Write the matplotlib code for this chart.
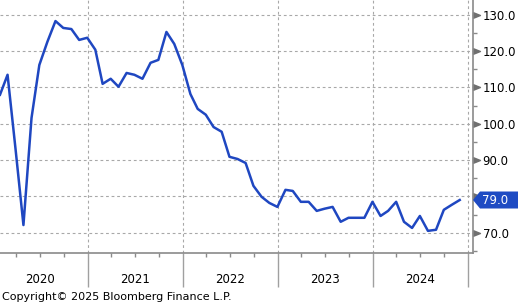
import pandas as pd
import matplotlib
matplotlib.use("Agg")
import matplotlib.pyplot as plt
import matplotlib.dates as mdates
from matplotlib.path import Path
from matplotlib.patches import Polygon
from matplotlib.transforms import IdentityTransform

# monthly series, month-end dates
dates = pd.date_range("2020-01-31", periods=59, freq="ME")
values = [
    108.0, 113.5, 92.8, 72.1, 101.6, 116.2, 122.6, 128.3, 126.4, 126.1, 123.1, 123.7,
    120.4, 111.0, 112.4, 110.2, 114.0, 113.5, 112.4, 116.8, 117.6, 125.3, 122.0, 116.2,
    108.2, 104.1, 102.5, 99.1, 97.8, 90.9, 90.3, 89.2, 82.9, 79.9, 78.2, 77.1,
    81.8, 81.5, 78.5, 78.5, 76.0, 76.6, 77.1, 73.0, 74.1, 74.1, 74.1, 78.5,
    74.6, 76.0, 78.5, 73.0, 71.3, 74.6, 70.5, 70.8, 76.3, 77.7, 79.0,
]
years = [2020, 2021, 2022, 2023, 2024]
y_ticks = [70, 80, 90, 100, 110, 120, 130]
y_minor = [65, 75, 85, 95, 105, 115, 125]

LINE_BLUE = "#1f47c1"
GREY = "#8a8a8a"

plt.rcParams["font.family"] = "DejaVu Sans"
plt.rcParams["font.size"] = 8

fig = plt.figure(figsize=(5.18, 3.05), dpi=100)
W, H = 518, 305
ax = fig.add_axes([0, 52 / H, 473 / W, 253 / H])

ax.plot(dates, values, color=LINE_BLUE, lw=1.8, zorder=3)

ax.set_xlim(dates[0], pd.Timestamp("2025-01-20"))
ax.set_ylim(64.4, 134.1)

# grid
ax.set_yticks(y_ticks)
ax.set_yticks(y_minor, minor=True)
ax.xaxis.set_major_locator(mdates.YearLocator())
ax.xaxis.set_minor_locator(mdates.MonthLocator(bymonth=[4, 7, 10]))
ax.grid(True, which="major", color="#a8a8a8", lw=0.8, ls=(0, (2.5, 2.5)))

# spines
for s in ["left", "top"]:
    ax.spines[s].set_visible(False)
for s in ["right", "bottom"]:
    ax.spines[s].set_color(GREY)
    ax.spines[s].set_linewidth(1.2)

# y axis on the right
ax.yaxis.tick_right()
ax.tick_params(axis="y", which="major", length=0, pad=7, labelsize=8.5)
ax.tick_params(axis="y", which="minor", length=3, width=1, color=GREY, direction="out")
ax.set_yticklabels(["70.0", "", "90.0", "100.0", "110.0", "120.0", "130.0"])

tri = Path([(0, -0.4), (1, 0), (0, 0.4), (0, -0.4)],
           [Path.MOVETO, Path.LINETO, Path.LINETO, Path.CLOSEPOLY])
ax.plot([1.0] * len(y_ticks), y_ticks, ls="none", marker=tri, ms=10,
        color="#707070", transform=ax.get_yaxis_transform(), clip_on=False)

# x axis: year separators and quarter ticks
ax.tick_params(axis="x", which="major", length=24.5, width=1, color="#a0a0a0",
               labelbottom=False)
ax.tick_params(axis="x", which="minor", length=3, width=1, color=GREY)
for yr in years:
    ax.text(pd.Timestamp(f"{yr}-07-02"), -0.103, str(yr), transform=ax.get_xaxis_transform(),
            ha="center", va="center", fontsize=8.5)

# last value label
fig.canvas.draw()
x_sp = ax.transAxes.transform((1, 0))[0]
y_lv = ax.transData.transform((mdates.date2num(dates[-1]), values[-1]))[1]
poly = Polygon([(x_sp, y_lv), (x_sp + 7, y_lv + 8.5), (W, y_lv + 8.5),
                (W, y_lv - 8.5), (x_sp + 7, y_lv - 8.5)],
               closed=True, facecolor="#1e4bc3", edgecolor="none",
               transform=IdentityTransform())
fig.add_artist(poly)
fig.text((x_sp + 9) / W, y_lv / H, f"{values[-1]:.1f}", color="white",
         ha="left", va="center", fontsize=8.5, zorder=5)

fig.text(2 / W, 8 / H, "Copyright\u00a9 2025 Bloomberg Finance L.P.",
         ha="left", va="center", fontsize=8)

fig.savefig("out.png", dpi=100)
